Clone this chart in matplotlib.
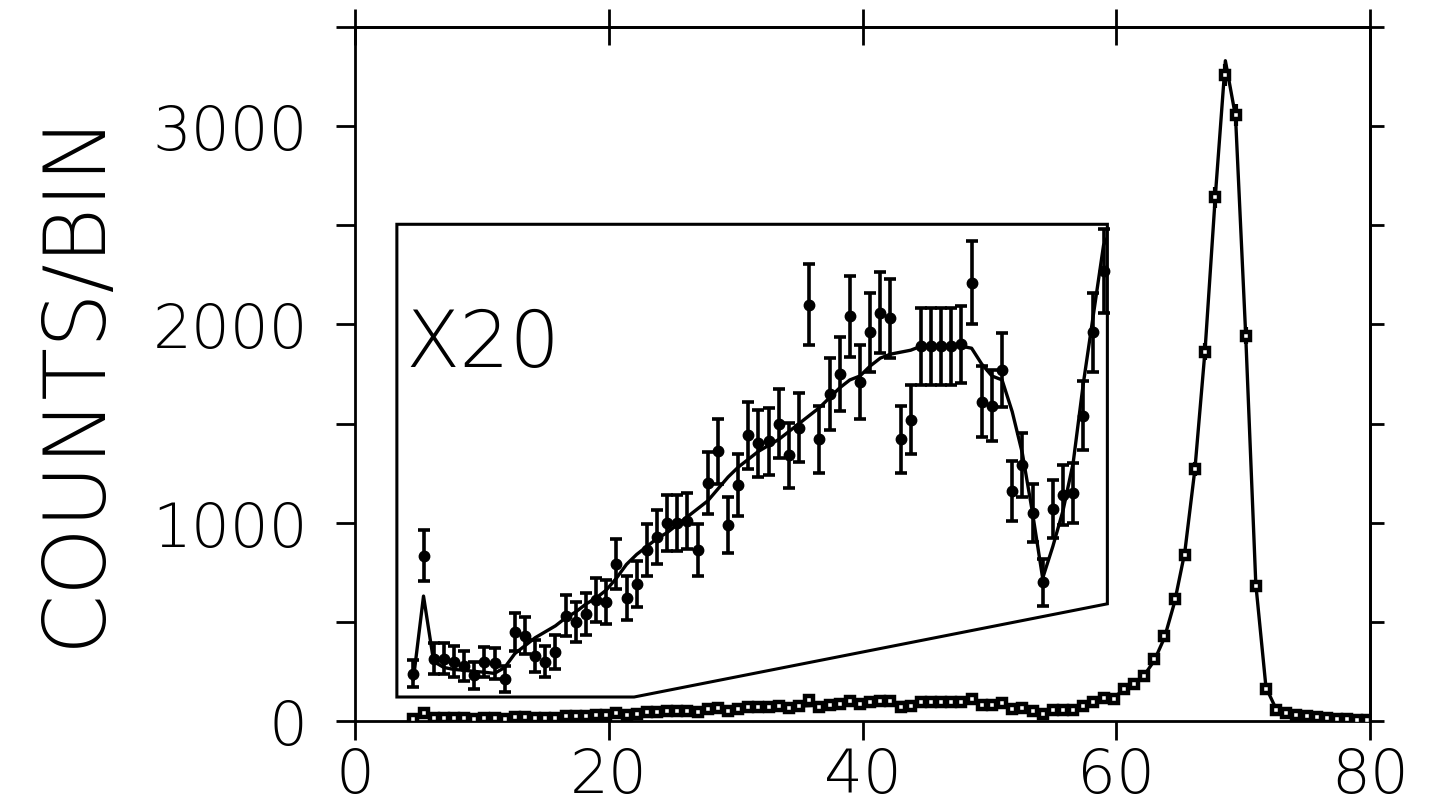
import numpy as np
import matplotlib
matplotlib.use("Agg")
import matplotlib.pyplot as plt
from matplotlib.patches import Polygon

plt.rcParams['font.family'] = ['DejaVu Sans']
plt.rcParams['font.weight'] = 200

# Bin centres of the spectrum
energy = np.round(4.6 + 0.8 * np.arange(95), 1)

# Measured counts per bin
counts = np.array([
    11.9, 41.7, 15.7, 15.7, 15.0, 13.9, 11.5, 14.9, 14.5, 10.6,
    22.5, 21.5, 16.4, 15.0, 17.4, 26.5, 25.0, 27.0, 30.5, 30.0,
    39.5, 31.0, 34.5, 43.0, 46.5, 50.0, 50.0, 50.5, 43.0, 60.0,
    68.0, 49.5, 59.5, 72.0, 70.0, 70.5, 75.0, 67.0, 74.0, 105.0,
    71.0, 82.5, 87.5, 102.0, 85.5, 98.0, 103.0, 101.5, 71.0, 76.0,
    94.5, 94.5, 94.5, 94.5, 95.0, 110.5, 80.5, 79.5, 88.5, 58.0,
    64.5, 52.5, 35.0, 53.5, 57.0, 57.5, 77.0, 98.0, 113.5,
    111, 162, 187, 227, 313, 429, 616, 838, 1273, 1863,
    2641, 3258, 3055, 1944, 682, 162, 55, 40, 32, 26,
    20, 16, 12, 9, 7, 5,
])

# Fitted spectrum
fit = np.array([
    10.5, 31.5, 15.0, 13.5, 13.0, 12.8, 12.5, 12.3, 12.0, 13.5,
    17.0, 19.0, 21.0, 22.5, 24.0, 26.0, 27.5, 29.5, 31.0, 33.0,
    36.0, 39.5, 42.0, 44.0, 46.0, 47.5, 49.5, 51.5, 53.5, 55.5,
    58.5, 61.5, 64.0, 66.0, 68.0, 69.5, 71.0, 73.0, 75.0, 77.0,
    79.0, 81.5, 84.0, 86.0, 87.0, 89.5, 91.5, 92.5, 93.0, 93.5,
    94.5, 94.5, 94.5, 94.5, 94.5, 94.0, 90.0, 87.0, 86.0, 78.0,
    67.5, 52.5, 36.0, 44.0, 53.0, 65.0, 85.0, 102.5, 120.0,
    125, 150, 185, 230, 305, 420, 600, 850, 1270, 1870,
    2640, 3330, 3050, 1950, 690, 170, 60, 38, 30, 24,
    19, 15, 12, 9, 7, 5,
])

scale = 20          # magnification of the low-energy part
n_inset = 69        # bins shown magnified
inset_frame = [(3.3, 2505), (3.3, 121), (22.0, 121), (59.3, 591), (59.3, 2505)]

xticks = [0, 20, 40, 60, 80]
yticks = [0, 1000, 2000, 3000]
yminor = [500, 1500, 2500, 3500]

fig = plt.figure(figsize=(14.3, 8.04), dpi=100)
ax = fig.add_axes([355 / 1430, 1 - 722 / 804, 1015 / 1430, 694 / 804])
ax.set_xlim(0, 80)
ax.set_ylim(0, 3500)

# full spectrum
ax.plot(energy, fit, color='black', lw=2.4, zorder=2)
ax.errorbar(energy, counts, yerr=np.sqrt(counts), fmt='s', ms=6.2,
            mfc='white', mec='black', mew=3.2, ecolor='black',
            elinewidth=3.0, capsize=0, zorder=3)

# magnified part
frame = Polygon(inset_frame, closed=True, fill=False, ec='black', lw=2.2, zorder=2)
ax.add_patch(frame)
line, = ax.plot(energy[:n_inset + 1], scale * fit[:n_inset + 1], color='black', lw=2.4, zorder=3)
line.set_clip_path(frame)
ax.errorbar(energy[:n_inset], scale * counts[:n_inset],
            yerr=scale * np.sqrt(counts[:n_inset]), fmt='o', ms=7.5,
            mfc='black', mec='black', ecolor='black', elinewidth=2.6,
            capsize=4.0, capthick=2.6, zorder=4)
ax.text(4.0, 1790, 'X20', fontsize=57, ha='left', va='baseline')

# axes frame and ticks
for s in ax.spines.values():
    s.set_linewidth(2.0)
ax.set_xticks(xticks)
ax.set_xticklabels([str(v) for v in xticks])
ax.set_yticks(yticks)
ax.set_yticks(yminor, minor=True)
ax.set_yticklabels([str(v) for v in yticks])
ax.tick_params(axis='x', which='both', direction='out', length=14, width=2.0,
               labelsize=44, pad=4, top=False)
ax.tick_params(axis='y', which='both', direction='out', length=14, width=2.0,
               labelsize=44, pad=20, right=False)

top = ax.secondary_xaxis('top')
top.set_xticks(xticks)
top.tick_params(direction='inout', length=26, width=2.0, labeltop=False)
right = ax.secondary_yaxis('right')
right.set_yticks(yticks + yminor)
right.tick_params(direction='out', length=10, width=2.0, labelright=False)
for sec in (top, right):
    for s in sec.spines.values():
        s.set_linewidth(2.0)

fig.text(75 / 1430, 1 - 378 / 804, 'COUNTS/BIN', fontsize=62, rotation=90,
         ha='center', va='center')

fig.savefig('out.png', dpi=100)
